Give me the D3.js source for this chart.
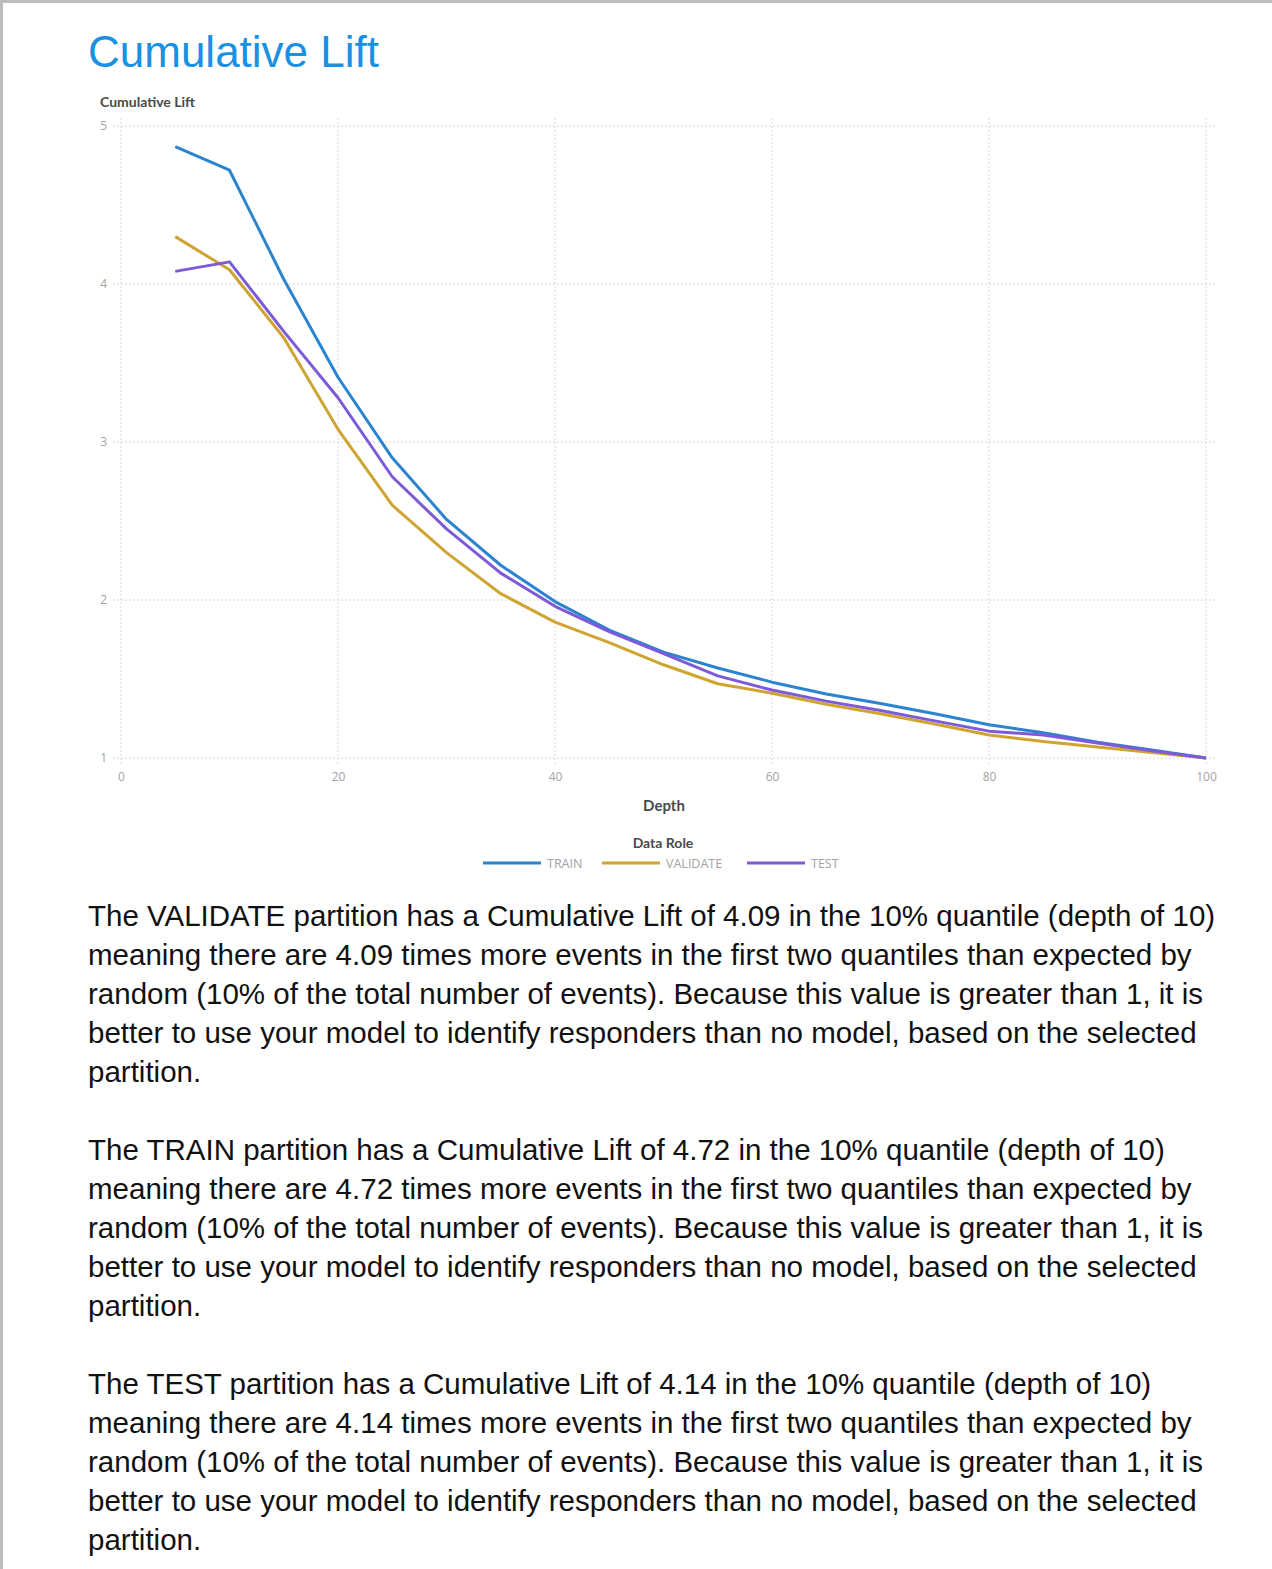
<!DOCTYPE html>
<html>
<head>
<meta charset="utf-8">
<script src="https://cdn.jsdelivr.net/npm/d3@7"></script>
<style>
  body { margin: 0; background: #fff; }
  #page { position: relative; width: 1272px; height: 1569px; overflow: hidden;
          border-top: 3px solid #bdbdbd; border-left: 3px solid #bdbdbd; box-sizing: border-box; }
  #title { position: absolute; left: 85px; top: 24px; font-family: "Liberation Sans", Arial, sans-serif;
           font-size: 44px; color: #1a90e2; }
  #chart { position: absolute; left: -3px; top: -3px; }
  .para { position: absolute; left: 85px; font-family: "Liberation Sans", Arial, sans-serif;
          font-size: 29.5px; line-height: 39px; color: #111; white-space: nowrap; }
</style>
</head>
<body>
<div id="page">
  <div id="title">Cumulative Lift</div>
  <div id="chart"></div>
</div>
<script>
// Chart values
var depth = [5, 10, 15, 20, 25, 30, 35, 40, 45, 50, 55, 60, 65, 70, 75, 80, 85, 90, 95, 100];
var train = [4.87, 4.72, 4.03, 3.41, 2.90, 2.51, 2.22, 1.99, 1.81, 1.67, 1.57, 1.48, 1.405, 1.345, 1.28, 1.21, 1.16, 1.10, 1.05, 1.0];
var validate = [4.30, 4.09, 3.66, 3.08, 2.60, 2.30, 2.04, 1.86, 1.73, 1.59, 1.47, 1.41, 1.34, 1.28, 1.215, 1.145, 1.105, 1.07, 1.035, 1.0];
var test = [4.08, 4.14, 3.70, 3.28, 2.78, 2.45, 2.17, 1.96, 1.80, 1.66, 1.52, 1.43, 1.36, 1.30, 1.235, 1.17, 1.145, 1.095, 1.045, 1.0];
var seriesNames = ["TRAIN", "VALIDATE", "TEST"];
var seriesColors = ["#2b84d0", "#cfa430", "#7c5ad8"];
var xTicks = [0, 20, 40, 60, 80, 100];
var yTicks = [1, 2, 3, 4, 5];

var paragraphs = [
  ["The VALIDATE partition has a Cumulative Lift of 4.09 in the 10% quantile (depth of 10)",
   "meaning there are 4.09 times more events in the first two quantiles than expected by",
   "random (10% of the total number of events). Because this value is greater than 1, it is",
   "better to use your model to identify responders than no model, based on the selected",
   "partition."],
  ["The TRAIN partition has a Cumulative Lift of 4.72 in the 10% quantile (depth of 10)",
   "meaning there are 4.72 times more events in the first two quantiles than expected by",
   "random (10% of the total number of events). Because this value is greater than 1, it is",
   "better to use your model to identify responders than no model, based on the selected",
   "partition."],
  ["The TEST partition has a Cumulative Lift of 4.14 in the 10% quantile (depth of 10)",
   "meaning there are 4.14 times more events in the first two quantiles than expected by",
   "random (10% of the total number of events). Because this value is greater than 1, it is",
   "better to use your model to identify responders than no model, based on the selected",
   "partition."]
];

// Setting chart parameters
var svgWidth = 1272;
var svgHeight = 880;
var plotLeft = 121, plotRight = 1206, plotTop = 126, plotBottom = 758;

var svg = d3.select("#chart").append("svg")
  .attr("width", svgWidth)
  .attr("height", svgHeight);

var x = d3.scaleLinear().domain([0, 100]).range([plotLeft, plotRight]);
var y = d3.scaleLinear().domain([1, 5]).range([plotBottom, plotTop]);

var font = "Lato, 'Open Sans', sans-serif";
var lightFont = "'Open Sans', sans-serif";

// Gridlines
svg.append("g").selectAll("line").data(yTicks).join("line")
  .attr("x1", plotLeft - 8).attr("x2", plotRight + 9)
  .attr("y1", d => y(d)).attr("y2", d => y(d))
  .attr("stroke", "#d9d9d9").attr("stroke-width", 1).attr("stroke-dasharray", "2,2");
svg.append("g").selectAll("line").data(xTicks).join("line")
  .attr("x1", d => x(d)).attr("x2", d => x(d))
  .attr("y1", plotTop - 8).attr("y2", plotBottom + 8)
  .attr("stroke", "#d9d9d9").attr("stroke-width", 1).attr("stroke-dasharray", "2,2");

// Axes (labels only)
var leftAxis = d3.axisLeft(y).tickValues(yTicks).tickFormat(d3.format("d")).tickSize(0).tickPadding(14);
var bottomAxis = d3.axisBottom(x).tickValues(xTicks).tickFormat(d3.format("d")).tickSize(0).tickPadding(14);
var gy = svg.append("g").attr("transform", `translate(${plotLeft},0)`).call(leftAxis);
var gx = svg.append("g").attr("transform", `translate(0,${plotBottom})`).call(bottomAxis);
[gx, gy].forEach(function(g) {
  g.select(".domain").remove();
  g.selectAll("text").attr("fill", "#a3a3a3").style("font-family", lightFont).style("font-size", "12px");
});

// Axis titles
svg.append("text").attr("x", 100).attr("y", 107).text("Cumulative Lift")
  .style("font-family", font).style("font-size", "14px").style("font-weight", "bold").attr("fill", "#4a4a4a");
svg.append("text").attr("x", 664).attr("y", 811).attr("text-anchor", "middle").text("Depth")
  .style("font-family", font).style("font-size", "15px").style("font-weight", "bold").attr("fill", "#4a4a4a");

// Lines
var lineGen = d3.line().x((d, i) => x(depth[i])).y(d => y(d));
[train, validate, test].forEach(function(vals, i) {
  svg.append("path").datum(vals)
    .attr("d", lineGen)
    .attr("fill", "none")
    .attr("stroke", seriesColors[i])
    .attr("stroke-width", 3)
    .attr("stroke-linejoin", "round");
});

// Legend
svg.append("text").attr("x", 663).attr("y", 848).attr("text-anchor", "middle").text("Data Role")
  .style("font-family", font).style("font-size", "14px").style("font-weight", "bold").attr("fill", "#4a4a4a");
var legendX = [483, 602, 747];
seriesNames.forEach(function(name, i) {
  var g = svg.append("g").attr("transform", `translate(${legendX[i]},863)`);
  g.append("line").attr("x1", 0).attr("x2", 58).attr("stroke", seriesColors[i]).attr("stroke-width", 3);
  g.append("text").attr("x", 64).attr("y", 4.5).text(name)
    .style("font-family", lightFont).style("font-size", "12.5px").attr("fill", "#a3a3a3");
});

// Text paragraphs
var tops = [896, 1130, 1364];
paragraphs.forEach(function(lines, i) {
  d3.select("#page").append("div").attr("class", "para")
    .style("top", (tops[i] - 3) + "px")
    .html(lines.join("<br>"));
});
</script>
</body>
</html>
